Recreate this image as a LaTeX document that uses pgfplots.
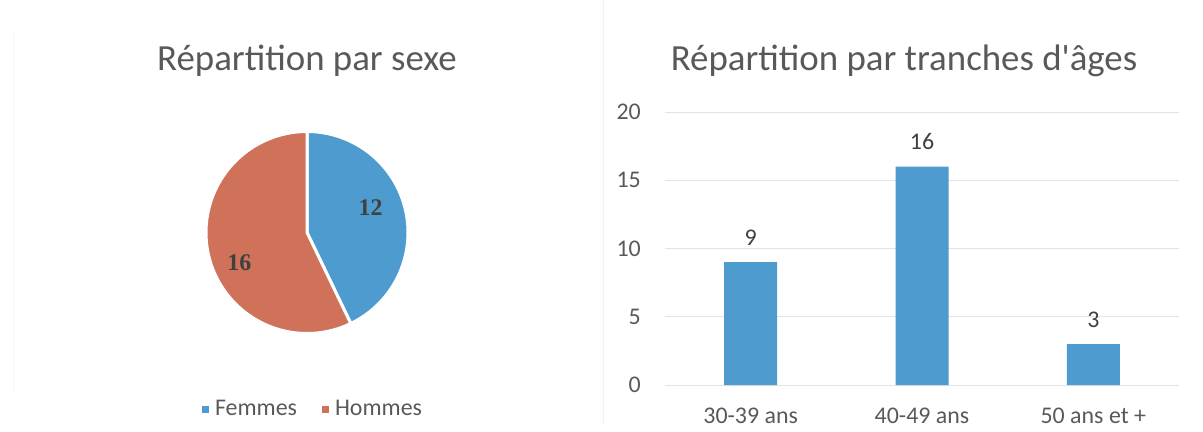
\documentclass[border=0pt]{standalone}
\usepackage{pgfplots}
\pgfplotsset{compat=1.18}
\usepackage{fontspec}
\setmainfont{Carlito}
\newfontfamily\serifb{Liberation Serif}
\definecolor{cblue}{HTML}{4E9BD0}
\definecolor{cred}{HTML}{CF7259}
\definecolor{txt}{HTML}{595959}
\definecolor{lbl}{HTML}{404040}
\def\vF{12}
\def\vH{16}
\pgfmathsetmacro{\aF}{360*\vF/(\vF+\vH)}
\pgfmathsetmacro{\aEnd}{90-\aF}
\pgfmathsetmacro{\aEndR}{450-\aF}
\begin{document}
\begin{tikzpicture}
\path[use as bounding box] (0bp,0bp) rectangle (1203bp,432bp);
\draw[gray!10, line width=1bp] (603bp,8bp) -- (603bp,432bp);
\draw[gray!8, line width=1bp] (13bp,40bp) -- (13bp,400bp);
% titles
\node[anchor=base, font=\fontsize{37}{40}\selectfont, text=txt, inner sep=0pt] at (307bp,361bp) {Répartition par sexe};
\node[anchor=base, font=\fontsize{37}{40}\selectfont, text=txt, inner sep=0pt] at (904bp,361bp) {Répartition par tranches d\textquotesingle âges};
% bars
\begin{axis}[at={(750.67bp,47bp)}, anchor=origin, scale only axis, width=514bp, height=273bp,
  xmin=-0.5, xmax=2.5, ymin=0, ymax=20,
  ytick={0,5,10,15,20}, xtick={0,1,2},
  xticklabels={30-39 ans,40-49 ans,50 ans et +},
  ymajorgrids, grid style={draw=gray!22, line width=0.8bp},
  axis line style={draw=none}, major tick length=0,
  /pgf/number format/assume math mode=true,
  ticklabel style={font=\fontsize{24}{26}\selectfont, text=txt},
  yticklabel style={anchor=east, inner sep=0pt, xshift=-24bp},
  xticklabel style={anchor=base, inner sep=0pt, yshift=-38bp},
  clip=false]
\addplot[ybar, bar width=53bp, fill=cblue, draw=none,
  nodes near coords,
  nodes near coords style={font=\fontsize{24}{26}\selectfont, text=lbl, anchor=base, inner sep=0pt, yshift=17bp}]
  coordinates {(0,9) (1,16) (2,3)};
\end{axis}
% pie
\begin{axis}[at={(307bp,199.5bp)}, anchor=origin, scale only axis, width=202bp, height=202bp,
  xmin=-1, xmax=1, ymin=-1, ymax=1, hide axis, clip=false,
  legend columns=2,
  legend style={at={(0.525,-0.374)}, anchor=center, draw=none, fill=none,
    font=\fontsize{24}{26}\selectfont, text=txt, nodes={inner sep=0pt},
    /tikz/every odd column/.append style={column sep=6bp},
    /tikz/every even column/.append style={column sep=25bp}},
  legend image code/.code={\fill[#1, draw=none] (0bp,-3.5bp) rectangle (7bp,3.5bp);}]
\addplot[fill=cblue, draw=white, line width=3bp, domain=\aEnd:90, samples=90, variable=\t]
  ({cos(\t)}, {sin(\t)}) -- (axis cs:0,0) -- cycle;
\addlegendentry{Femmes}
\addplot[fill=cred, draw=white, line width=3bp, domain=90:\aEndR, samples=90, variable=\t]
  ({cos(\t)}, {sin(\t)}) -- (axis cs:0,0) -- cycle;
\addlegendentry{Hommes}
\node[font=\serifb\bfseries\fontsize{24}{26}\selectfont, text=lbl] at (axis cs:0.63,0.245) {12};
\node[font=\serifb\bfseries\fontsize{24}{26}\selectfont, text=lbl] at (axis cs:-0.67,-0.295) {16};
\end{axis}
\end{tikzpicture}
\end{document}
